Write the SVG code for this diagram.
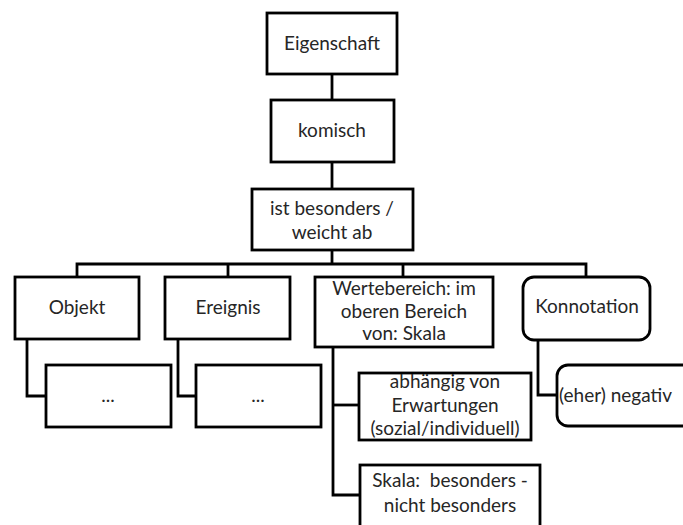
<svg xmlns="http://www.w3.org/2000/svg" width="683" height="525" viewBox="0 0 683 525">
  <style>
    .box { fill: #ffffff; stroke: #000000; stroke-width: 2.8; }
    .link { fill: none; stroke: #000000; stroke-width: 2.8; stroke-linejoin: miter; }
    text { font-family: Lato, "Open Sans", "Liberation Sans", sans-serif; font-size: 19px; fill: #262626; text-anchor: middle; }
  </style>
  <rect x="0" y="0" width="683" height="525" fill="#ffffff"/>

  <g id="connectors">
    <path class="link" d="M332 74 V100"/>
    <path class="link" d="M332 162 V189"/>
    <path class="link" d="M332 250 V264"/>
    <path class="link" d="M77 277 V264 H586 V277"/>
    <path class="link" d="M228 264 V277"/>
    <path class="link" d="M403 264 V277"/>
    <path class="link" d="M27 339 V396 H46"/>
    <path class="link" d="M178 339 V396 H196"/>
    <path class="link" d="M333 347 V495 H360"/>
    <path class="link" d="M333 405 H359"/>
    <path class="link" d="M538 340 V395 H557"/>
  </g>

  <g id="eigenschaft">
    <rect class="box" x="267" y="13" width="130" height="61"/>
    <text x="332" y="50">Eigenschaft</text>
  </g>
  <g id="komisch">
    <rect class="box" x="271" y="100" width="123" height="62"/>
    <text x="332" y="137">komisch</text>
  </g>
  <g id="besonders">
    <rect class="box" x="252" y="189" width="161" height="61"/>
    <text x="332" y="215">ist besonders /</text>
    <text x="332" y="239">weicht ab</text>
  </g>
  <g id="objekt">
    <rect class="box" x="15" y="277" width="124" height="62"/>
    <text x="77" y="314">Objekt</text>
  </g>
  <g id="ereignis">
    <rect class="box" x="165" y="277" width="125" height="62"/>
    <text x="228" y="314">Ereignis</text>
  </g>
  <g id="wertebereich">
    <rect class="box" x="315" y="277" width="178" height="70"/>
    <text x="404" y="295">Wertebereich: im</text>
    <text x="404" y="317.5">oberen Bereich</text>
    <text x="404" y="340">von: Skala</text>
  </g>
  <g id="konnotation">
    <rect class="box" x="523" y="277" width="127" height="63" rx="11" ry="11"/>
    <text x="587" y="313">Konnotation</text>
  </g>
  <g id="objekt-detail">
    <rect class="box" x="46" y="365" width="125" height="62"/>
    <text x="108" y="402">...</text>
  </g>
  <g id="ereignis-detail">
    <rect class="box" x="196" y="365" width="125" height="62"/>
    <text x="258" y="402">...</text>
  </g>
  <g id="erwartungen">
    <rect class="box" x="359" y="373" width="172" height="67"/>
    <text x="445" y="388">abhängig von</text>
    <text x="445" y="411.5">Erwartungen</text>
    <text x="445" y="435">(sozial/individuell)</text>
  </g>
  <g id="skala">
    <rect class="box" x="360" y="465" width="180" height="80"/>
    <text x="450" y="487" xml:space="preserve">Skala:  besonders -</text>
    <text x="450" y="512">nicht besonders</text>
  </g>
  <g id="negativ">
    <rect class="box" x="557" y="365" width="140" height="61" rx="11" ry="11"/>
    <text x="559" y="402" style="text-anchor: start">(eher) negativ</text>
  </g>
</svg>
